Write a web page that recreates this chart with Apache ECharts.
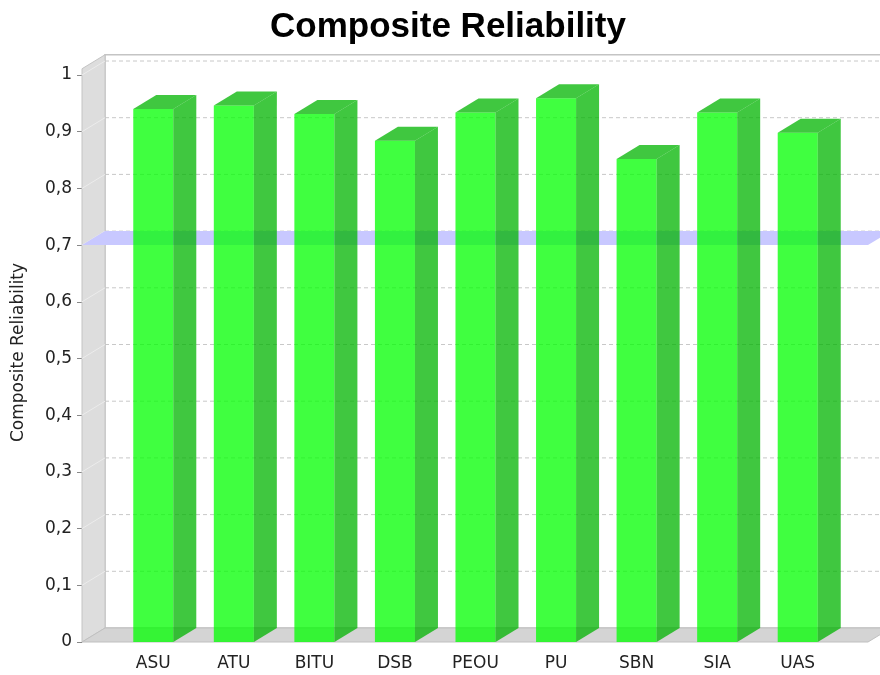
<!DOCTYPE html>
<html>
<head>
<meta charset="utf-8">
<title>Composite Reliability</title>
<script src="https://cdn.jsdelivr.net/npm/echarts@6/dist/echarts.min.js"></script>
<style>
  html, body { margin: 0; padding: 0; background: #ffffff; }
  #chart { width: 880px; height: 675px; }
</style>
</head>
<body>
<div id="chart"></div>
<script>
// Constructs and their composite reliability scores
var categories = ['ASU', 'ATU', 'BITU', 'DSB', 'PEOU', 'PU', 'SBN', 'SIA', 'UAS'];
var reliability = [0.940, 0.946, 0.931, 0.884, 0.934, 0.959, 0.852, 0.934, 0.898];
// Recommended threshold drawn as a marker plane
var thresholdValue = 0.7;
// Value axis ticks
var yTicks = [0, 0.1, 0.2, 0.3, 0.4, 0.5, 0.6, 0.7, 0.8, 0.9, 1];

// 3D look: depth offsets of the plot box
var DX = 23, DY = 14;
var PLANE_LEFT_PAD = 31;     // front plane extends left of the category band
var PLANE_RIGHT_PAD = 30;    // and right of it
var PLANE_TOP_VALUE = 1.011; // wall height in data units
var BAR_RATIO = 0.497;       // bar width relative to category band

var chart = echarts.init(document.getElementById('chart'), null, { renderer: 'canvas' });

function fmt(v) {
  return String(Math.round(v * 10) / 10).replace('.', ',');
}

// Walls, floor, gridlines and threshold marker
function renderBox(params, api) {
  var cs = params.coordSys;
  var left = cs.x - PLANE_LEFT_PAD;
  var right = cs.x + cs.width + PLANE_RIGHT_PAD;
  var yBottom = api.coord([0, 0])[1];
  var yTop = api.coord([0, PLANE_TOP_VALUE])[1];
  var children = [];
  // back wall
  children.push({
    type: 'rect',
    shape: { x: left + DX, y: yTop - DY, width: right - left, height: yBottom - yTop },
    style: { fill: '#ffffff', stroke: '#c4c4c4', lineWidth: 1.5 }
  });
  // left wall
  children.push({
    type: 'polygon',
    shape: { points: [[left, yTop], [left + DX, yTop - DY], [left + DX, yBottom - DY], [left, yBottom]] },
    style: { fill: '#dddddd', stroke: '#c4c4c4', lineWidth: 1 }
  });
  // floor
  children.push({
    type: 'polygon',
    shape: { points: [[left, yBottom], [left + DX, yBottom - DY], [right + DX, yBottom - DY], [right, yBottom]] },
    style: { fill: '#d4d4d4', stroke: '#c0c0c0', lineWidth: 1 }
  });
  // gridlines on back wall and left wall
  yTicks.forEach(function (t) {
    if (t === 0) return;
    var y = api.coord([0, t])[1];
    children.push({
      type: 'line',
      shape: { x1: left + DX, y1: y - DY, x2: right + DX, y2: y - DY },
      style: { stroke: '#c8c8c8', lineWidth: 1, lineDash: [4, 3] }
    });
    children.push({
      type: 'line',
      shape: { x1: left, y1: y, x2: left + DX, y2: y - DY },
      style: { stroke: '#ececec', lineWidth: 1 }
    });
  });
  // threshold marker plane
  var ym = api.coord([0, thresholdValue])[1];
  children.push({
    type: 'polygon',
    shape: { points: [[left, ym], [left + DX, ym - DY], [right + DX, ym - DY], [right, ym]] },
    style: { fill: '#c8c8ff' }
  });
  return { type: 'group', children: children };
}

// 3D bars: front face, side face and top face
function renderBar(params, api) {
  var idx = api.value(0);
  var val = api.value(1);
  var base = api.coord([idx, 0]);
  var topPt = api.coord([idx, val]);
  var w = api.size([1, 0])[0] * BAR_RATIO;
  var xL = base[0] - w / 2;
  var xR = base[0] + w / 2;
  var y0 = base[1];
  var y1 = topPt[1];
  var front = 'rgba(0,255,0,0.75)';
  var dark = 'rgba(0,180,0,0.75)';
  return {
    type: 'group',
    children: [
      {
        type: 'rect',
        shape: { x: xL, y: y1, width: w, height: y0 - y1 },
        style: { fill: front }
      },
      {
        type: 'polygon',
        shape: { points: [[xR, y1], [xR + DX, y1 - DY], [xR + DX, y0 - DY], [xR, y0]] },
        style: { fill: dark }
      },
      {
        type: 'polygon',
        shape: { points: [[xL, y1], [xL + DX, y1 - DY], [xR + DX, y1 - DY], [xR, y1]] },
        style: { fill: dark }
      }
    ]
  };
}

var option = {
  animation: false,
  backgroundColor: '#ffffff',
  graphic: [{
    type: 'text',
    x: 448,
    y: 27,
    style: {
      text: 'Composite Reliability',
      fontFamily: 'Liberation Sans, Arial, sans-serif',
      fontWeight: 'bold',
      fontSize: 35,
      fill: '#000000',
      textAlign: 'center',
      textVerticalAlign: 'middle'
    }
  }],
  grid: { left: 113, top: 75, width: 725, height: 567, containLabel: false },
  xAxis: {
    type: 'category',
    data: categories,
    boundaryGap: true,
    axisLine: { show: false },
    axisTick: { show: false },
    axisLabel: {
      margin: 13,
      fontFamily: 'DejaVu Sans, sans-serif',
      fontSize: 17,
      color: '#222222'
    },
    splitLine: { show: false }
  },
  yAxis: {
    type: 'value',
    min: 0,
    max: 1,
    interval: 0.1,
    offset: 31,
    name: 'Composite Reliability',
    nameLocation: 'middle',
    nameGap: 55,
    nameRotate: 90,
    nameTextStyle: {
      fontFamily: 'DejaVu Sans, sans-serif',
      fontSize: 17,
      color: '#222222',
      padding: [0, 0, 0, 12]
    },
    axisLine: { show: false },
    axisTick: { show: true, length: 5, lineStyle: { color: '#888888' } },
    axisLabel: {
      margin: 10,
      fontFamily: 'DejaVu Sans, sans-serif',
      fontSize: 17,
      color: '#222222',
      formatter: fmt
    },
    splitLine: { show: false }
  },
  series: [
    {
      type: 'custom',
      name: 'box',
      renderItem: renderBox,
      data: [[0, 0]],
      z: 1,
      silent: true
    },
    {
      type: 'custom',
      name: 'Composite Reliability',
      renderItem: renderBar,
      data: reliability.map(function (v, i) { return [i, v]; }),
      encode: { x: 0, y: 1 },
      z: 2
    }
  ]
};

chart.setOption(option);
</script>
</body>
</html>
